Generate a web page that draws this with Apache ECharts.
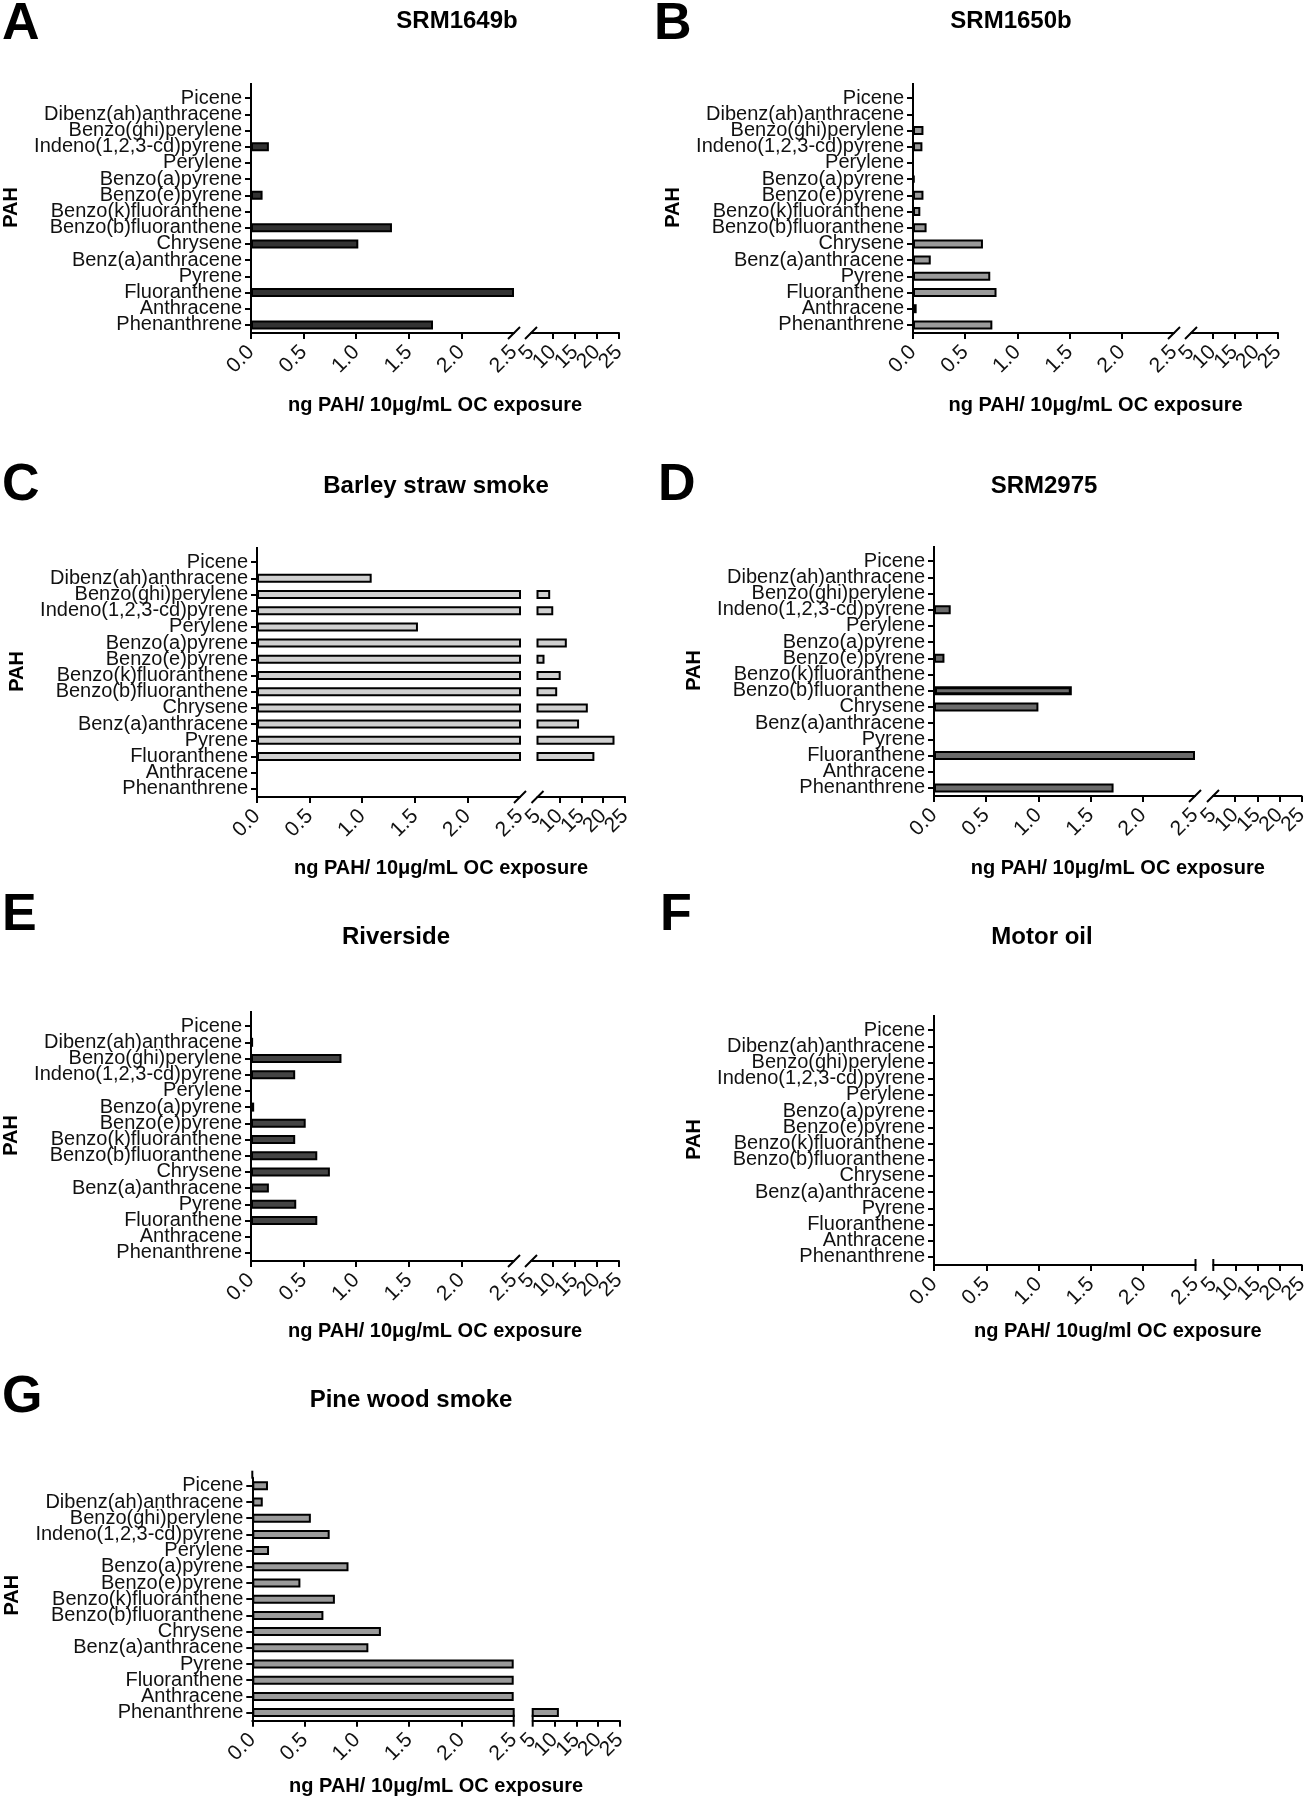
<!DOCTYPE html>
<html><head><meta charset="utf-8">
<script src="https://cdn.jsdelivr.net/npm/echarts@6/dist/echarts.min.js"></script>
<style>html,body{margin:0;padding:0;background:#fff}#c{width:1306px;height:1800px}</style>
</head><body><div id="c"></div>
<script>
// ---- data ----
const categories = ['Picene','Dibenz(ah)anthracene','Benzo(ghi)perylene','Indeno(1,2,3-cd)pyrene','Perylene','Benzo(a)pyrene','Benzo(e)pyrene','Benzo(k)fluoranthene','Benzo(b)fluoranthene','Chrysene','Benz(a)anthracene','Pyrene','Fluoranthene','Anthracene','Phenanthrene'];
const lowTicks = [0, 0.5, 1.0, 1.5, 2.0, 2.5];
const highTicks = [5, 10, 15, 20, 25];
const srm1649b  = [0, 0, 0, 0.17, 0, 0, 0.11, 0, 1.34, 1.02, 0, 0, 2.5, 0, 1.73];
const srm1650b  = [0, 0, 0.10, 0.09, 0, 0.015, 0.10, 0.07, 0.13, 0.67, 0.17, 0.74, 0.80, 0.035, 0.76];
const barley    = [0, 1.09, 7.9, 8.6, 1.53, 11.7, 6.6, 10.3, 9.5, 16.5, 14.5, 22.6, 18.0, 0, 0];
const srm2975   = [0, 0, 0, 0.16, 0, 0, 0.10, 0, 1.32, 1.00, 0, 0, 2.5, 0, 1.72];
const riverside = [0, 0.02, 0.86, 0.42, 0, 0.03, 0.52, 0.42, 0.63, 0.75, 0.17, 0.43, 0.63, 0, 0];
const motorOil  = [0, 0, 0, 0, 0, 0, 0, 0, 0, 0, 0, 0, 0, 0, 0];
const pineWood  = [0.15, 0.10, 0.56, 0.74, 0.16, 0.92, 0.46, 0.79, 0.68, 1.23, 1.11, 2.5, 2.5, 2.5, 11.0];
const xTitleUg = 'ng PAH/ 10\u03bcg/mL OC exposure';
const xTitleMotor = 'ng PAH/ 10ug/ml OC exposure';
const yTitle = 'PAH';

// ---- layout ----
const FONT = "'Liberation Sans', Arial, sans-serif";
const TICK_FONT = 21, TICK_MARGIN = 16;
const panels = [
  {letter:'A', title:'SRM1649b', values:srm1649b, fill:'#333333', x0:251, xa:514, xb:531, x1:619, axisY:333, lx:2, ly:25, tx:457, ty:21, xt:xTitleUg, xtOff:72, brk:'slash'},
  {letter:'B', title:'SRM1650b', values:srm1650b, fill:'#9a9a9a', x0:913, xa:1174, xb:1191, x1:1278, axisY:333, lx:654, ly:25, tx:1011, ty:21, xt:xTitleUg, xtOff:72, brk:'slash'},
  {letter:'C', title:'Barley straw smoke', values:barley, fill:'#d0d0d0', x0:257, xa:520, xb:537.5, x1:625, axisY:797, lx:2, ly:486, tx:436, ty:486, xt:xTitleUg, xtOff:71, brk:'slash'},
  {letter:'D', title:'SRM2975', values:srm2975, fill:'#6b6b6b', x0:934, xa:1195, xb:1213, x1:1301.5, axisY:796, lx:658, ly:486, tx:1044, ty:486, xt:xTitleUg, xtOff:72, brk:'slash', heavy:['Benzo(b)fluoranthene']},
  {letter:'E', title:'Riverside', values:riverside, fill:'#444444', x0:251, xa:514, xb:531, x1:619, axisY:1261, lx:2, ly:916, tx:396, ty:937, xt:xTitleUg, xtOff:70, brk:'slash'},
  {letter:'F', title:'Motor oil', values:motorOil, fill:'#888888', x0:934, xa:1195.5, xb:1213.3, x1:1301.7, axisY:1265, lx:660, ly:916, tx:1042, ty:937, xt:xTitleMotor, xtOff:66, brk:'cap'},
  {letter:'G', title:'Pine wood smoke', values:pineWood, fill:'#9a9a9a', x0:252.3, xa:513.7, xb:532.7, x1:620, axisY:1720.7, lx:2, ly:1398, tx:411, ty:1400, xt:xTitleUg, xtOff:66, brk:'cap'}
];

const option = {animation:false, backgroundColor:'#fff', grid:[], xAxis:[], yAxis:[], series:[], graphic:[]};
const lineStyle = {color:'#000', width:2};
function txt(x, y, text, font, align, rot) {
  return {type:'text', x, y, rotation: rot || 0, z:100, silent:true,
    style:{text, font, fill:'#000', align: align||'center', verticalAlign:'middle', textAlign: align||'center', textVerticalAlign:'middle'}};
}
function seg(x1, y1, x2, y2) {
  return {type:'line', z:100, silent:true, shape:{x1, y1, x2, y2}, style:{stroke:'#000', lineWidth:2}};
}
function barData(p, keep) {
  return p.values.map((v, i) => {
    if (!keep(v)) return '-';
    if (p.heavy && p.heavy.indexOf(categories[i]) >= 0) return {value: v, itemStyle: {borderWidth: 3}};
    return v;
  });
}
panels.forEach(p => {
  const H = 243, top = p.axisY - H;
  const gi = option.grid.length;
  p.rightAxis = gi + 1;
  option.grid.push({left:p.x0, top, width:p.xa - p.x0, height:H, containLabel:false, outerBoundsMode:'none'});
  option.grid.push({left:p.xb, top, width:p.x1 - p.xb, height:H, containLabel:false, outerBoundsMode:'none'});
  option.xAxis.push({type:'value', gridIndex:gi, min:lowTicks[0], max:lowTicks[lowTicks.length-1], interval:lowTicks[1]-lowTicks[0], splitLine:{show:false},
    axisLine:{show:true, lineStyle}, axisTick:{show:true, length:6, lineStyle, customValues: lowTicks.slice(0, -1)},
    axisLabel:{rotate:45, fontSize:TICK_FONT, fontFamily:FONT, color:'#111', margin:TICK_MARGIN, showMinLabel:true, showMaxLabel:true, hideOverlap:false,
      formatter: v => Number(v).toFixed(1)}});
  option.xAxis.push({type:'value', gridIndex:gi+1, min:highTicks[0], max:highTicks[highTicks.length-1], interval:highTicks[1]-highTicks[0], splitLine:{show:false},
    axisLine:{show:true, lineStyle}, axisTick:{show:true, length:6, lineStyle, customValues: highTicks.slice(1)},
    axisLabel:{show:false}});
  option.yAxis.push({type:'category', gridIndex:gi, data:categories, inverse:true,
    axisLine:{show:true, lineStyle}, axisTick:{show:true, alignWithLabel:true, length:6, lineStyle},
    axisLabel:{fontSize:20, fontFamily:FONT, color:'#111', margin:9, interval:0}});
  option.yAxis.push({type:'category', gridIndex:gi+1, data:categories, inverse:true, show:false});
  const itemStyle = {color:p.fill, borderColor:'#000', borderWidth:2};
  option.series.push({type:'bar', xAxisIndex:gi, yAxisIndex:gi, clip:true, barWidth:9, itemStyle,
    data: barData(p, v => v > 0)});
  option.series.push({type:'bar', xAxisIndex:gi+1, yAxisIndex:gi+1, clip:true, barWidth:9, itemStyle,
    data: barData(p, v => v > highTicks[0])});
  // decorations
  const g = option.graphic;
  g.push(seg(p.x0, top - 7, p.x0, top + 1));
  if (p.brk === 'slash') {
    g.push(seg(p.xa - 6, p.axisY + 6, p.xa + 6, p.axisY - 6));
    g.push(seg(p.xb - 6, p.axisY + 6, p.xb + 6, p.axisY - 6));
  } else {
    g.push(seg(p.xa, p.axisY - 6, p.xa, p.axisY + 6));
    g.push(seg(p.xb, p.axisY - 6, p.xb, p.axisY + 6));
  }
  g.push(txt(p.lx, p.ly, p.letter, 'bold 52px ' + FONT, 'left'));
  g.push(txt(p.tx, p.ty, p.title, 'bold 24px ' + FONT, 'center'));
  g.push(txt((p.x0 + p.x1) / 2, p.axisY + p.xtOff, p.xt, 'bold 20px ' + FONT, 'center'));
  g.push(txt(p.x0 - 240, top + H / 2 - 4, yTitle, 'bold 20px ' + FONT, 'center', Math.PI / 2));
});
const chart = echarts.init(document.getElementById('c'), null, {renderer:'canvas', width:1306, height:1800});
chart.setOption(option);
// Right-segment tick labels (5..25), placed through the axis scale so that none is auto-hidden
panels.forEach(p => {
  highTicks.forEach(v => {
    const px = chart.convertToPixel({xAxisIndex: p.rightAxis}, v);
    option.graphic.push({type:'text', x: px, y: p.axisY + TICK_MARGIN, rotation: Math.PI / 4, z:100, silent:true,
      style:{text:String(v), font: TICK_FONT + 'px ' + FONT, fill:'#111', align:'right', verticalAlign:'middle', textAlign:'right', textVerticalAlign:'middle'}});
  });
});
chart.setOption({graphic: option.graphic});
</script></body></html>
